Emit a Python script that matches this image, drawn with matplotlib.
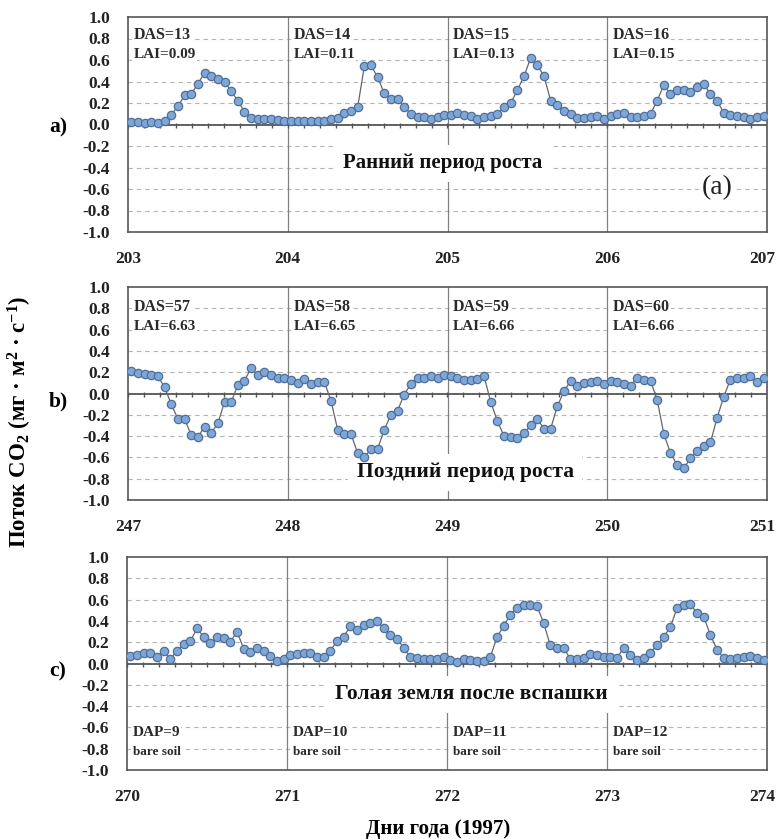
import matplotlib
matplotlib.use('Agg')
import matplotlib.pyplot as plt
import matplotlib.transforms as mtransforms
import numpy as np

plt.rcParams['font.family'] = ['Liberation Serif', 'DejaVu Serif']
plt.rcParams['axes.unicode_minus'] = False
plt.rcParams['mathtext.fontset'] = 'custom'
plt.rcParams['mathtext.rm'] = 'Liberation Serif:bold'
plt.rcParams['mathtext.it'] = 'Liberation Serif:bold:italic'
plt.rcParams['mathtext.bf'] = 'Liberation Serif:bold'

# ---------------- data ----------------
days_a = [203, 204, 205, 206, 207]
flux_a = [
    0.02, 0.02, 0.01, 0.02, 0.01, 0.03, 0.09, 0.17, 0.27, 0.28, 0.38, 0.48,
    0.45, 0.42, 0.40, 0.31, 0.22, 0.12, 0.06, 0.05, 0.05, 0.05, 0.04, 0.03,
    0.03, 0.03, 0.03, 0.03, 0.03, 0.03, 0.05, 0.06, 0.11, 0.13, 0.16, 0.54,
    0.55, 0.44, 0.29, 0.24, 0.24, 0.16, 0.10, 0.07, 0.07, 0.05, 0.07, 0.09,
    0.09, 0.11, 0.09, 0.08, 0.05, 0.07, 0.08, 0.10, 0.16, 0.20, 0.32, 0.45,
    0.62, 0.55, 0.45, 0.22, 0.18, 0.13, 0.10, 0.06, 0.06, 0.07, 0.08, 0.05,
    0.08, 0.10, 0.11, 0.07, 0.07, 0.08, 0.10, 0.22, 0.37, 0.28, 0.32, 0.32,
    0.30, 0.35, 0.38, 0.28, 0.22, 0.11, 0.09, 0.08, 0.07, 0.05, 0.07, 0.08,
]
top_a = ['DAS=13', 'DAS=14', 'DAS=15', 'DAS=16']
bot_a = ['LAI=0.09', 'LAI=0.11', 'LAI=0.13', 'LAI=0.15']

days_b = [247, 248, 249, 250, 251]
flux_b = [
    0.21, 0.19, 0.18, 0.17, 0.16, 0.06, -0.10, -0.24, -0.24, -0.39, -0.41, -0.31,
    -0.37, -0.28, -0.08, -0.08, 0.08, 0.12, 0.24, 0.17, 0.20, 0.17, 0.15, 0.15,
    0.13, 0.10, 0.14, 0.09, 0.11, 0.11, -0.07, -0.34, -0.38, -0.38, -0.56, -0.60,
    -0.52, -0.52, -0.34, -0.20, -0.16, -0.01, 0.09, 0.15, 0.15, 0.16, 0.15, 0.17,
    0.16, 0.15, 0.13, 0.13, 0.14, 0.16, -0.08, -0.26, -0.40, -0.41, -0.42, -0.37,
    -0.30, -0.24, -0.33, -0.33, -0.12, 0.02, 0.12, 0.07, 0.10, 0.11, 0.12, 0.09,
    0.12, 0.11, 0.09, 0.07, 0.15, 0.13, 0.12, -0.06, -0.38, -0.56, -0.67, -0.70,
    -0.61, -0.54, -0.49, -0.46, -0.23, -0.03, 0.13, 0.15, 0.15, 0.16, 0.11, 0.15,
]
top_b = ['DAS=57', 'DAS=58', 'DAS=59', 'DAS=60']
bot_b = ['LAI=6.63', 'LAI=6.65', 'LAI=6.66', 'LAI=6.66']

days_c = [270, 271, 272, 273, 274]
flux_c = [
    0.07, 0.08, 0.10, 0.10, 0.06, 0.12, 0.04, 0.12, 0.18, 0.21, 0.33, 0.25,
    0.19, 0.25, 0.24, 0.20, 0.30, 0.14, 0.11, 0.15, 0.12, 0.07, 0.02, 0.04,
    0.08, 0.09, 0.10, 0.10, 0.06, 0.06, 0.12, 0.21, 0.25, 0.35, 0.31, 0.36,
    0.38, 0.40, 0.33, 0.27, 0.23, 0.15, 0.06, 0.05, 0.04, 0.04, 0.04, 0.06,
    0.03, 0.01, 0.04, 0.03, 0.02, 0.02, 0.06, 0.25, 0.35, 0.46, 0.52, 0.55,
    0.55, 0.54, 0.38, 0.17, 0.15, 0.15, 0.04, 0.04, 0.05, 0.09, 0.08, 0.06,
    0.06, 0.05, 0.15, 0.08, 0.03, 0.05, 0.10, 0.17, 0.25, 0.34, 0.52, 0.55,
    0.56, 0.47, 0.44, 0.27, 0.13, 0.05, 0.04, 0.05, 0.06, 0.07, 0.05, 0.03,
]
top_c = ['DAP=9', 'DAP=10', 'DAP=11', 'DAP=12']
bot_c = ['bare soil', 'bare soil', 'bare soil', 'bare soil']

y_ticks = [-1.0, -0.8, -0.6, -0.4, -0.2, 0.0, 0.2, 0.4, 0.6, 0.8, 1.0]

# ---------------- figure ----------------
W, H = 777, 839
fig = plt.figure(figsize=(W / 100, H / 100), dpi=100)


def rect(l, t, r, b):
    return [l / W, 1 - b / H, (r - l) / W, (b - t) / H]


panels = [
    dict(r=rect(128, 17, 767, 232), days=days_a, flux=flux_a, t1=top_a, t2=bot_a,
         y1=0.83, y2=0.65, s1=11.5, s2=11,
         big='Ранний период роста', bx=204.97, by=-0.36, bs=15, letter='a)', ly=127),
    dict(r=rect(128, 287, 767, 500), days=days_b, flux=flux_b, t1=top_b, t2=bot_b,
         y1=0.81, y2=0.63, s1=11.5, s2=11,
         big='Поздний период роста', bx=249.11, by=-0.74, bs=15.5, letter='b)', ly=401),
    dict(r=rect(127, 557, 767, 770), days=days_c, flux=flux_c, t1=top_c, t2=bot_c,
         y1=-0.65, y2=-0.83, s1=11, s2=9.5,
         big='Голая земля после вспашки', bx=272.15, by=-0.29, bs=15.5, letter='c)', ly=671),
]

edge = '#555555'
for p in panels:
    ax = fig.add_axes(p['r'])
    d0, d1 = p['days'][0], p['days'][-1]
    ax.set_xlim(d0, d1)
    ax.set_ylim(-1, 1)
    for y in y_ticks:
        if abs(y) > 1e-9 and abs(abs(y) - 1) > 1e-9:
            ax.axhline(y, color='#b5b5b5', ls=(0, (4, 3.5)), lw=0.8, zorder=1)
    for d in p['days'][1:-1]:
        ax.axvline(d, color='#808080', lw=0.9, zorder=1.5)
    ax.axhline(0, color=edge, lw=1.3, zorder=2.5)
    mt = np.arange(d0, d1 + 1e-6, 0.1)
    ax.vlines(mt, -0.035, 0.012, color=edge, lw=1.0, zorder=2.5)

    n = len(p['flux'])
    x = d0 + (np.arange(n) + 0.5) / 24.0
    ax.plot(x, p['flux'], '-', color='#666666', lw=0.9, marker='o', ms=6,
            mfc='#7ea7d8', mec='#4f6f98', mew=0.9, zorder=4)

    for i in range(4):
        ax.text(d0 + i + 0.035, p['y1'], p['t1'][i], fontsize=p['s1'],
                fontweight='bold', color='#2a2a2a', va='center', ha='left', zorder=3,
                bbox=dict(facecolor='white', edgecolor='none', pad=1.0))
        ax.text(d0 + i + 0.035, p['y2'], p['t2'][i], fontsize=p['s2'],
                fontweight='bold', color='#2a2a2a', va='center', ha='left', zorder=3,
                bbox=dict(facecolor='white', edgecolor='none', pad=1.0))

    ax.text(p['bx'], p['by'], p['big'], fontsize=p['bs'], fontweight='bold', color='#111111',
            ha='center', va='center', zorder=3,
            bbox=dict(facecolor='white', edgecolor='none', boxstyle='square,pad=0.4'))

    ax.set_yticks(y_ticks)
    ax.set_yticklabels(['%.1f' % v for v in y_ticks], fontweight='bold', fontsize=12.5)
    ax.set_xticks(p['days'])
    ax.set_xticklabels([str(v) for v in p['days']], fontweight='bold', fontsize=12.5)
    ax.tick_params(axis='both', length=0, colors='#222222')
    ax.tick_params(axis='y', pad=13)
    ax.tick_params(axis='x', pad=14)
    last = ax.get_xticklabels()[-1]
    last.set_horizontalalignment('right')
    last.set_transform(last.get_transform() +
                       mtransforms.ScaledTranslation(8 / 100, 0, fig.dpi_scale_trans))
    for s in ax.spines.values():
        s.set_color(edge)
        s.set_linewidth(1.2)
    fig.text(58 / W, 1 - p['ly'] / H, p['letter'], fontsize=15.5, fontweight='bold',
             ha='center', va='center')
    if p['letter'] == 'a)':
        ax.text(206.69, -0.59, '(a)', fontsize=20, color='#222222', ha='center',
                va='center', zorder=3,
                bbox=dict(facecolor='white', edgecolor='none', pad=2))

fig.text(20 / W, 1 - 422 / H, r'Поток CO$_2$ (мг · м$^2$ · с$^{-1}$)', rotation=90,
         fontsize=16.5, fontweight='bold', ha='center', va='center')
fig.text(438 / W, 1 - 829 / H, 'Дни года (1997)', fontsize=15, fontweight='bold',
         ha='center', va='center')

fig.savefig('out.png', dpi=100)
